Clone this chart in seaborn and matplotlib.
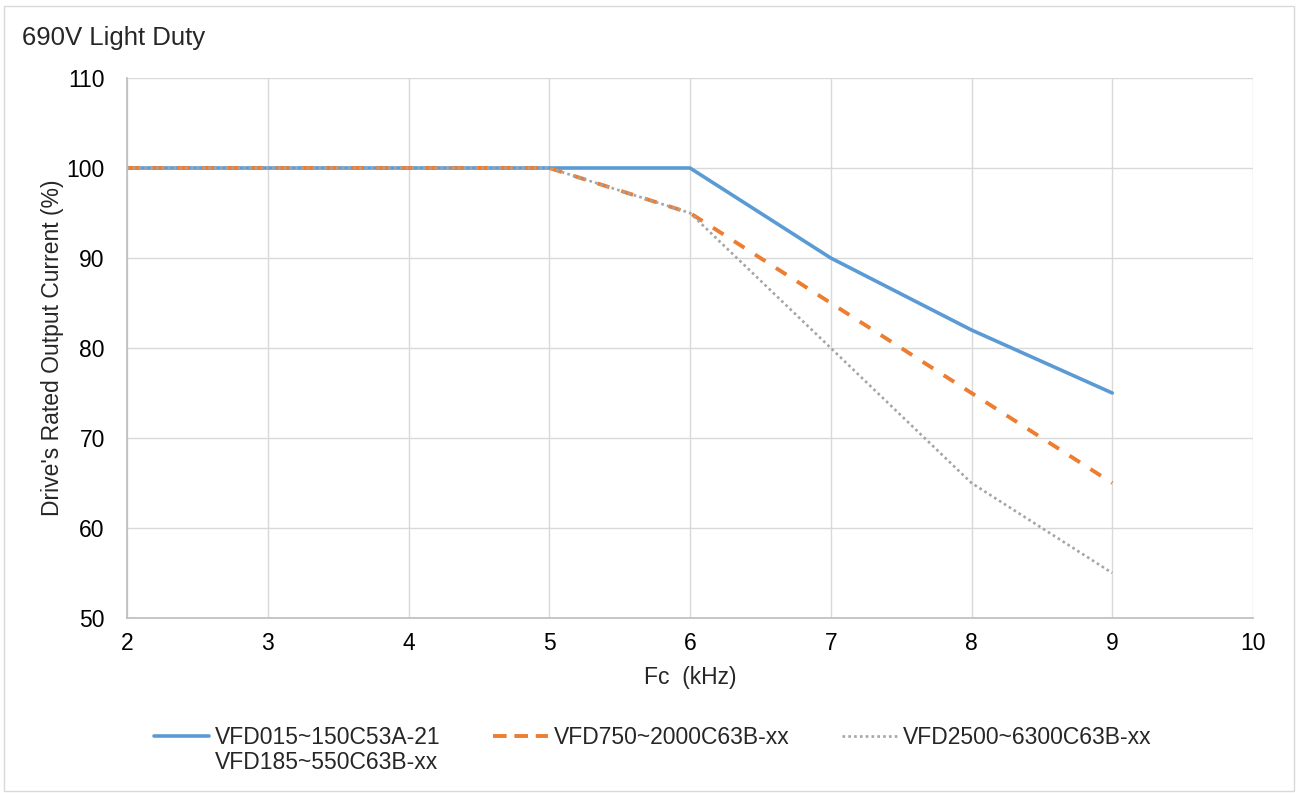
import matplotlib
matplotlib.use("Agg")
import matplotlib.pyplot as plt
import seaborn as sns
import pandas as pd
from matplotlib.patches import Rectangle
from matplotlib.lines import Line2D

fc_khz = [2, 3, 4, 5, 6, 7, 8, 9]
series_a = [100, 100, 100, 100, 100, 90, 82, 75]
series_b = [100, 100, 100, 100, 95, 85, 75, 65]
series_c = [100, 100, 100, 100, 95, 80, 65, 55]
labels = ["VFD015~150C53A-21",
          "VFD750~2000C63B-xx",
          "VFD2500~6300C63B-xx"]
label_a_second_line = "VFD185~550C63B-xx"
colors = ["#5B9BD5", "#ED7D31", "#A5A5A5"]
x_ticks = [2, 3, 4, 5, 6, 7, 8, 9, 10]
y_ticks = [50, 60, 70, 80, 90, 100, 110]

rows = []
for lab, vals in zip(labels, [series_a, series_b, series_c]):
    for x, y in zip(fc_khz, vals):
        rows.append({"Fc": x, "val": y, "series": lab})
df = pd.DataFrame(rows)

sns.set_theme(style="white")
plt.rcParams['font.family'] = ['Liberation Sans', 'DejaVu Sans']

FS = 16.5
fig = plt.figure(figsize=(12.98, 7.93), dpi=100)
ax = fig.add_axes([127/1298, 1-618/793, (1253-127)/1298, (618-78)/793])

dash_b = (3.2, 3.2)
dash_c = (1, 1.2)
sns.lineplot(data=df, x="Fc", y="val", hue="series", style="series",
             palette=dict(zip(labels, colors)),
             dashes={labels[0]: "", labels[1]: dash_b, labels[2]: dash_c},
             linewidth=2.6, ax=ax, legend=False)
lws = [2.6, 2.8, 1.9]
for ln, w in zip(ax.get_lines(), lws):
    ln.set_linewidth(w)

ax.set_xlim(2, 10)
ax.set_ylim(50, 110)
ax.set_xticks(x_ticks)
ax.set_yticks(y_ticks)
ax.grid(True, color="#D9D9D9", linewidth=1)
ax.set_axisbelow(True)
for s in ["top", "right"]:
    ax.spines[s].set_visible(False)
ax.spines["left"].set_color("#BFBFBF")
ax.spines["bottom"].set_color("#BFBFBF")
ax.tick_params(axis="y", labelsize=FS, colors="#000000", length=0, pad=16)
ax.tick_params(axis="x", labelsize=FS, colors="#000000", length=0, pad=10)
ax.set_xlabel("Fc  (kHz)", fontsize=FS, labelpad=8)
ax.set_ylabel("Drive's Rated Output Current (%)", fontsize=FS, labelpad=2)

fig.text(22/1298, 1-38/793, "690V Light Duty", fontsize=18.5, va="center", ha="left")

blank = Line2D([], [], color="none", lw=0)
handles = [Line2D([], [], color=colors[0], lw=2.6), blank,
           Line2D([], [], color=colors[1], lw=2.8, dashes=(3.5, 2)), blank,
           Line2D([], [], color=colors[2], lw=1.9, dashes=dash_c), blank]
leg_labels = [labels[0], label_a_second_line, labels[1], "", labels[2], ""]
leg = fig.legend(handles, leg_labels, loc="upper center",
                 bbox_to_anchor=(0.503, 1-726/793),
                 ncol=3, frameon=False, fontsize=FS, handlelength=2.4,
                 columnspacing=2.3, handletextpad=0.25, labelspacing=0.1,
                 borderpad=0, borderaxespad=0)

fig.patches.append(Rectangle((0.003, 0.003), 0.994, 0.99, transform=fig.transFigure,
                             fill=False, edgecolor="#D9D9D9", linewidth=1))

fig.savefig("out.png", dpi=100)
